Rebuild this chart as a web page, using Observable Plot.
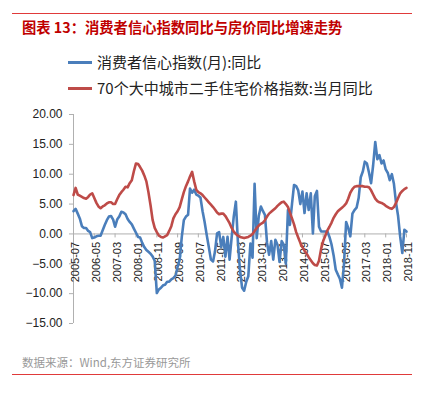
<!DOCTYPE html>
<html>
<head>
<meta charset="utf-8">
<script src="https://cdn.jsdelivr.net/npm/d3@7"></script>
<script src="https://cdn.jsdelivr.net/npm/@observablehq/plot@0.6"></script>
<style>
  html, body { margin: 0; padding: 0; background: #fff; }
  #page { position: relative; width: 431px; height: 393px; overflow: hidden; background: #fff;
          font-family: "Liberation Sans", "Noto Sans CJK SC", sans-serif; }
  .hr { position: absolute; left: 12px; width: 400px; height: 1px; background: #e03a3a; }
  #title { position: absolute; left: 22px; top: 18px; font-size: 14.3px; line-height: 18px; font-weight: bold;
           color: #c00000; font-family: "Noto Sans CJK SC", sans-serif; white-space: nowrap; }
  .leg { position: absolute; left: 68px; height: 20px; white-space: nowrap; }
  .sw { position: absolute; left: 0; top: 9px; width: 24px; height: 3px; }
  .lt { position: absolute; left: 29px; top: 0; font-size: 15px; line-height: 20px; color: #222;
        font-family: "Noto Sans CJK SC", sans-serif; }
  #source { position: absolute; left: 22px; top: 354px; font-size: 11.5px; line-height: 16px; color: #999;
            font-family: "Noto Sans CJK SC", sans-serif; white-space: nowrap; }
  #chart { position: absolute; left: 0; top: 100px; }
</style>
</head>
<body>
<div id="page">
  <div class="hr" style="top:13px"></div>
  <div id="title"></div>
  <div class="leg" style="top:52px"><div class="sw" id="sw0"></div><div class="lt" id="lt0"></div></div>
  <div class="leg" style="top:78px"><div class="sw" id="sw1"></div><div class="lt" id="lt1"></div></div>
  <div id="chart"></div>
  <div id="source"></div>
  <div class="hr" style="top:374px"></div>
</div>
<script>
const titleText = "图表 13：消费者信心指数同比与房价同比增速走势";
const sourceText = "数据来源：Wind,东方证券研究所";
const seriesNames = ["消费者信心指数(月):同比", "70个大中城市二手住宅价格指数:当月同比"];
const seriesColors = ["#4a7ebb", "#be4b48"];

// monthly, 2005-07 .. 2018-11
const startMonth = "2005-07";
const endMonth = "2018-11";

const confidenceYoY = [
  3.8, 4.2, 3.4, 2.6, 1.3, 1.0,
  1.0, 0.5, 0.3, -0.7, -0.6, -0.4, -0.3, -0.3, 0.6, 1.5, 2.3, 2.9,
  3.0, 2.4, 1.2, 2.4, 2.9, 3.7, 3.6, 3.3, 2.5, 2.0, 1.6, 0.9,
  0.2, -0.5, -0.6, -1.5, -2.2, -2.7, -3.0, -3.3, -3.8, -4.5, -9.9, -9.3,
  -9.0, -8.6, -8.5, -8.0, -8.0, -7.6, -7.4, -7.0, -5.5, -4.3, -0.5, 2.3,
  2.9, 3.2, 7.6, 6.9, 7.4, 6.6, 6.4, 6.1, 3.8, 2.0, -0.2, -2.2,
  -4.3, -4.6, -3.0, 0.1, 0.3, -2.2, -0.5, -3.8, -0.5, -4.3, -0.5, 2.9,
  5.4, -1.6, -6.0, -9.0, -9.5, -8.0, -7.1, -1.6, -4.0, 8.4, -0.7, 3.0,
  4.6, 3.8, 3.2, -1.5, -3.5, -1.2, -4.3, -1.0, -1.8, -4.7, -1.2, -1.8,
  -5.0, 4.0, 1.5, 5.0, 8.2, 8.0, 7.3, 5.0, 7.1, 3.5, 6.8, 4.0,
  6.8, 0.1, 6.3, 7.2, 1.2, 0.4, 0.4, 0.4, 0.4, -0.5, -1.8, -3.6,
  -6.0, -6.8, -7.5, -9.0, -5.0, 2.0, 1.0, -0.4, 3.4, 4.0, 4.4, 6.0,
  9.5, 10.5, 12.1, 11.8, 10.3, 8.5, 11.5, 15.4, 12.5, 13.2, 11.8, 12.3,
  10.8, 10.2, 9.0, 10.0, 8.4, 5.2, 3.0, -0.5, -3.2, 0.7, 0.4
];

const housePriceYoY = [
  6.5, 7.7, 6.6, 6.4, 6.2, 6.0,
  5.9, 6.2, 6.6, 6.8, 6.0, 5.2, 4.6, 4.3, 4.6, 4.8, 5.1, 5.3,
  5.3, 5.0, 5.0, 5.8, 6.5, 7.0, 7.4, 7.9, 7.8, 8.5, 9.0, 10.5,
  11.8, 11.7, 11.2, 10.6, 9.8, 8.8, 7.0, 4.8, 2.3, 1.0, 0.3, -0.3,
  -0.5, -0.6, -0.4, -0.2, 0.5, 1.3, 2.6, 3.3, 3.8, 4.5, 5.8, 7.0,
  8.0, 8.8, 9.6, 10.4, 8.8, 7.4, 7.0, 6.8, 6.5, 6.1, 5.7, 5.3,
  4.9, 4.5, 4.1, 3.6, 3.3, 3.4, 3.4, 3.0, 2.4, 1.8, 1.0, 0.4,
  0.0, -0.3, -0.5, -0.6, -0.7, -0.6, -0.5, -0.3, 0.0, 0.5, 1.0, 1.4,
  1.7, 1.9, 2.3, 2.9, 3.4, 3.7, 4.0, 4.3, 4.7, 5.0, 5.3, 5.4,
  5.0, 4.5, 3.6, 2.6, 1.6, 0.3, -0.6, -1.5, -2.2, -2.8, -3.3, -3.9,
  -4.4, -4.9, -5.2, -5.3, -4.5, -2.5, -1.2, -0.3, 0.6, 1.2, 1.9, 2.7,
  3.3, 3.8, 4.1, 4.4, 4.7, 5.1, 5.9, 6.9, 7.5, 7.9, 8.0, 8.0,
  8.0, 8.0, 7.9, 7.9, 7.8, 7.3, 6.6, 5.9, 5.5, 5.3, 5.2, 5.0,
  4.7, 4.5, 4.3, 4.2, 4.5, 5.2, 6.0, 6.8, 7.2, 7.5, 7.7
];

const xTickLabels = ["2005-07","2006-05","2007-03","2008-01","2008-11","2009-09","2010-07","2011-05",
  "2012-03","2013-01","2013-11","2014-09","2015-07","2016-05","2017-03","2018-01","2018-11"];
const yTicks = [20, 15, 10, 5, 0, -5, -10, -15];

const parseMonth = d3.utcParse("%Y-%m");
const months = d3.utcMonth.range(parseMonth(startMonth), d3.utcMonth.offset(parseMonth(endMonth), 1));
const rows = months.map((d, i) => ({date: d, blue: confidenceYoY[i], red: housePriceYoY[i]}));

document.getElementById("title").textContent = titleText;
document.getElementById("source").textContent = sourceText;
document.getElementById("lt0").textContent = seriesNames[0];
document.getElementById("lt1").textContent = seriesNames[1];
document.getElementById("sw0").style.background = seriesColors[0];
document.getElementById("sw1").style.background = seriesColors[1];

const yMin = d3.min(yTicks), yMax = d3.max(yTicks);

const chart = Plot.plot({
  width: 431,
  height: 235,
  marginLeft: 73,
  marginRight: 25,
  marginTop: 14,
  marginBottom: 12,
  x: {type: "utc", domain: [months[0], months[months.length - 1]], axis: null},
  y: {domain: [yMin, yMax], axis: null},
  style: {fontFamily: "'Liberation Sans', sans-serif", fontSize: "12px", color: "#222", background: "transparent", overflow: "visible"},
  marks: [
    Plot.ruleX([months[0]], {y1: yMin, y2: yMax, stroke: "#b0b0b0", strokeWidth: 1}),
    Plot.axisY({ticks: yTicks, tickFormat: d3.format(".2f"), tickSize: 4, tickPadding: 7, stroke: "#b0b0b0", fontSize: 12, label: null}),
    Plot.ruleY([0], {stroke: "#b0b0b0", strokeWidth: 1}),
    Plot.ruleX(xTickLabels, {x: d => parseMonth(d), y1: () => 0, y2: () => 0, insetBottom: -4, stroke: "#b0b0b0"}),
    Plot.text(xTickLabels, {x: d => parseMonth(d), y: () => 0, text: d => d, rotate: -90, textAnchor: "end", dy: 8, dx: 2, fontSize: 11, fill: "#222"}),
    Plot.line(rows, {x: "date", y: "blue", stroke: seriesColors[0], strokeWidth: 2.6}),
    Plot.line(rows, {x: "date", y: "red", stroke: seriesColors[1], strokeWidth: 2.6})
  ]
});
document.getElementById("chart").appendChild(chart);
</script>
</body>
</html>
